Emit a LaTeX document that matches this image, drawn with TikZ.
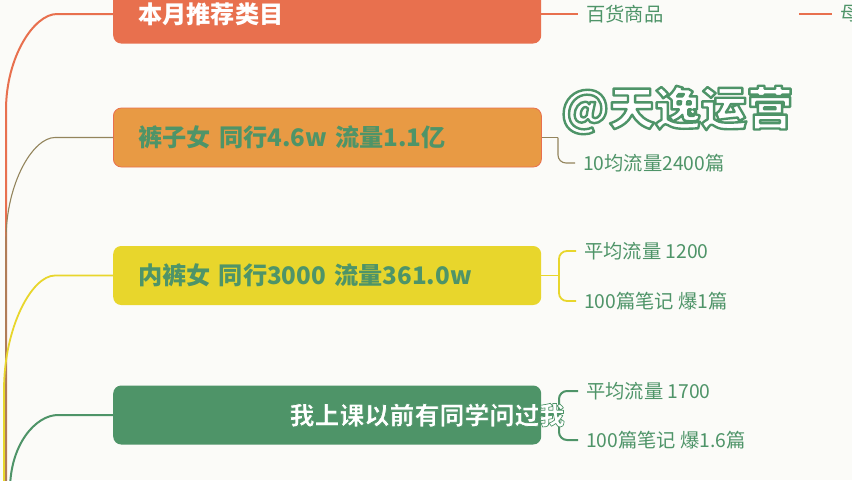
\documentclass[tikz,border=0pt]{standalone}
\usepackage{fontspec}
\setmainfont{Noto Sans CJK SC}
\definecolor{bgc}{HTML}{FBFBF8}
\definecolor{org}{HTML}{E8704E}
\definecolor{ylw}{HTML}{E8D62C}
\definecolor{grn}{HTML}{4E9468}
\definecolor{mix}{HTML}{E89A44}
\newcommand\outlinetext[2]{\special{pdf:literal 0.306 0.580 0.408 RG 1 j #1 w 2 Tr}#2\special{pdf:literal 0 Tr}}
\begin{document}
\begin{tikzpicture}[x=1pt,y=-1pt,
  box/.style={anchor=west, rounded corners=8pt, minimum width=428pt, minimum height=59pt,
    inner xsep=25pt, inner ysep=0pt, text width=378pt, align=left,
    font=\fontsize{24.2}{27}\selectfont\bfseries},
  leaf/.style={anchor=west, inner xsep=8pt, inner ysep=2pt, text=grn,
    font=\fontsize{19.3}{22}\selectfont},
  oline/.style={draw=org, line width=2pt},
  mline/.style={draw=grn!55!org, line width=1.1pt},
  yline/.style={draw=ylw, line width=1.8pt},
  gline/.style={draw=grn, line width=2pt}]
\useasboundingbox[fill=bgc] (0,0) rectangle (852,480);

% main boxes
\node[box, fill=org, text=white] (b1) at (113,14) {本月推荐类目};
\node[box, fill=mix, draw=org, line width=0.8pt, text=grn] (b2) at (113,137.5) {裤子女 同行4.6w 流量1.1亿};
\node[box, fill=ylw, text=grn] (b3) at (113,275.5) {内裤女 同行3000 流量361.0w};
\node[box, fill=grn] (b4) at (113,415) {};

% root curves
\coordinate (r1) at (6,490);
\coordinate (r2) at (6,490);
\coordinate (r3) at (4,490);
\coordinate (r4) at (10,490);
\draw[oline] (r1) -- (6,110) .. controls (6,57) and (34,14) .. (57,14) -- (b1.west);
\draw[mline] (r2) -- (6,240) .. controls (6,183) and (33,137.5) .. (55,137.5) -- (b2.west);
\draw[yline] (r3) -- (4,390) .. controls (4,327) and (32,275.5) .. (55,275.5) -- (b3.west);
\draw[gline] (r4) .. controls (10,444) and (36,415) .. (58,415) -- (b4.west);

% leaves
\node[leaf, text width=205pt, align=left] (c11) at (578,14) {百货商品};
\node[leaf] (c12) at (832,14) {母};
\node[leaf] (c22) at (575,163) {10均流量2400篇};
\node[leaf] (c31) at (576,251) {平均流量 1200};
\node[leaf] (c32) at (576,301) {100篇笔记 爆1篇};
\node[leaf] (c41) at (578,391) {平均流量 1700};
\node[leaf] (c42) at (578,440) {100篇笔记 爆1.6篇};

% junctions
\coordinate (j2) at (558,137.5);
\coordinate (j3) at (559,275.5);
\coordinate (j4) at (559,415);

\draw[oline] (b1.east) -- (c11.west);
\draw[oline] (c11.east) -- (c12.west);
\draw[mline] (b2.east) -- (j2);
\draw[mline, rounded corners=8pt] (j2) |- (c22.west);
\draw[yline] (b3.east) -- (j3);
\draw[yline, rounded corners=8pt] (c31.west) -| (j3) |- (c32.west);
\draw[gline] (b4.east) -- (j4);
\draw[gline, rounded corners=8pt] (c41.west) -| (j4) |- (c42.west);

% overlays
\node[text=white, font=\fontsize{25}{29}\selectfont\bfseries, inner sep=0pt] (sub) at (427,415) {\outlinetext{0.7}{我上课以前有同学问过我}};
\node[text=white, font=\fontsize{46}{50}\selectfont\bfseries, inner sep=0pt] (wm) at (677,110) {\outlinetext{2.4}{@天逸运营}};
\end{tikzpicture}
\end{document}
